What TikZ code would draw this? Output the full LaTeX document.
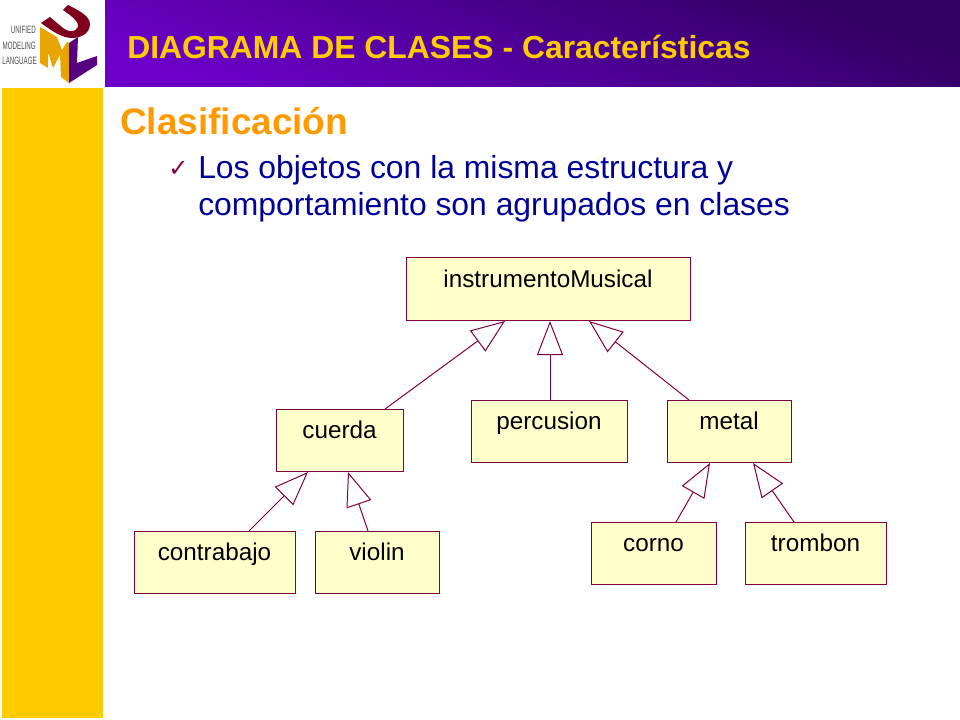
\documentclass[tikz,border=0pt]{standalone}
\usepackage{fontspec}
\setmainfont{Liberation Sans}
\newfontfamily\symfont{DejaVu Sans}
\usetikzlibrary{arrows.meta,calc}
\definecolor{gold}{RGB}{255,204,0}
\definecolor{orangeT}{RGB}{255,153,0}
\definecolor{blueT}{RGB}{0,0,153}
\definecolor{maroon}{RGB}{128,0,64}
\definecolor{cream}{RGB}{255,255,204}
\definecolor{umlred}{RGB}{128,0,32}
\definecolor{umlgold}{RGB}{232,165,0}
\definecolor{umlpurple}{RGB}{88,0,130}
\tikzset{
 classbox/.style={draw=maroon,fill=cream,line width=.75pt,anchor=north west,inner sep=0pt,outer sep=0pt,
   minimum height=46.5pt,text height=21.75pt,text depth=24.75pt,font=\fontsize{18.2}{20}\selectfont,text=black},
 gen/.style={draw=maroon,line width=.75pt,-{Triangle[open,length=25.5pt,width=19.5pt,fill=white]}},
 logotxt/.style={font=\fontsize{8}{9}\selectfont,text=black!70,inner sep=0pt,anchor=base east},
}
\begin{document}
\begin{tikzpicture}[x=.75pt,y=-.75pt]
\useasboundingbox (0,0) rectangle (960,720);
\fill[white] (0,0) rectangle (960,720);
% side bar and header
\fill[gold] (2,88) rectangle (103,718);
\shade[shading=axis,left color={rgb,255:red,48;green,0;blue,96},right color={rgb,255:red,108;green,0;blue,200},shading angle=340] (105,1) rectangle (960,87);
% UML logo
\fill[umlgold] (40,27) -- (57,37) -- (62,50) -- (67,42) -- (69,43) -- (69,83) -- (61,77) -- (60,55) -- (53,68) -- (48,52) -- (48,68) -- (40,63) -- cycle;
\fill[umlpurple] (69,43) -- (78,37) -- (77,63) -- (97,56) -- (97,65) -- (69,83) -- cycle;
\fill[umlred] (41,23) -- (50,17) -- (63,28) .. controls (68,32) and (75,33) .. (78,27) .. controls (79,21) and (70,15) .. (63,10) -- (68,5) .. controls (78,10) and (90,16) .. (90,24) .. controls (90,34) and (80,38) .. (72,38) .. controls (62,38) and (52,31) .. (41,23) -- cycle;
\node[logotxt] (lg1) at (36,34) {\scalebox{.58}[1]{UNIFIED}};
\node[logotxt] (lg2) at (36,50) {\scalebox{.58}[1]{MODELING}};
\node[logotxt] (lg3) at (37,65) {\scalebox{.58}[1]{LANGUAGE}};
% texts
\node[anchor=base west,inner sep=0pt,text=gold,font=\bfseries\fontsize{23.9}{26}\selectfont] (title) at (127,59) {DIAGRAMA DE CLASES - Características};
\node[anchor=base west,inner sep=0pt,text=orangeT,font=\bfseries\fontsize{27.7}{30}\selectfont] (head) at (120,135) {Clasificación};
\node[anchor=base west,inner sep=0pt,text=maroon,font=\symfont\fontsize{18}{20}\selectfont] (chk) at (168,177) {✓};
\node[anchor=base west,inner sep=0pt,text=blueT,font=\fontsize{23.9}{26}\selectfont] (l1) at (198,179) {Los objetos con la misma estructura y};
\node[anchor=base west,inner sep=0pt,text=blueT,font=\fontsize{23.9}{26}\selectfont] (l2) at (198,216) {comportamiento son agrupados en clases};
% classes
\node[classbox,minimum width=213pt] (inst) at (406,258) {instrumentoMusical};
\node[classbox,minimum width=95.25pt] (cuerda) at (276,409) {cuerda};
\node[classbox,minimum width=117pt] (perc) at (471,400) {percusion};
\node[classbox,minimum width=93pt] (metal) at (667,400) {metal};
\node[classbox,minimum width=120.75pt] (contra) at (134,531) {contrabajo};
\node[classbox,minimum width=93pt] (violin) at (315,531) {violin};
\node[classbox,minimum width=93.75pt] (corno) at (591,522) {corno};
\node[classbox,minimum width=105.75pt] (tromb) at (745,522) {trombon};
% generalisations
\draw[gen] ($(cuerda.north west)+(109,0)$) -- ($(inst.south west)+(99,1)$);
\draw[gen] ($(perc.north west)+(79,0)$) -- ($(inst.south west)+(144,1)$);
\draw[gen] ($(metal.north west)+(22,0)$) -- ($(inst.south west)+(183,1)$);
\draw[gen] ($(contra.north west)+(115,0)$) -- ($(cuerda.south west)+(32,1)$);
\draw[gen] ($(violin.north west)+(53,0)$) -- ($(cuerda.south west)+(72,1)$);
\draw[gen] ($(corno.north west)+(85,0)$) -- ($(metal.south west)+(43,1)$);
\draw[gen] ($(tromb.north west)+(49,0)$) -- ($(metal.south west)+(86,1)$);
\end{tikzpicture}
\end{document}
